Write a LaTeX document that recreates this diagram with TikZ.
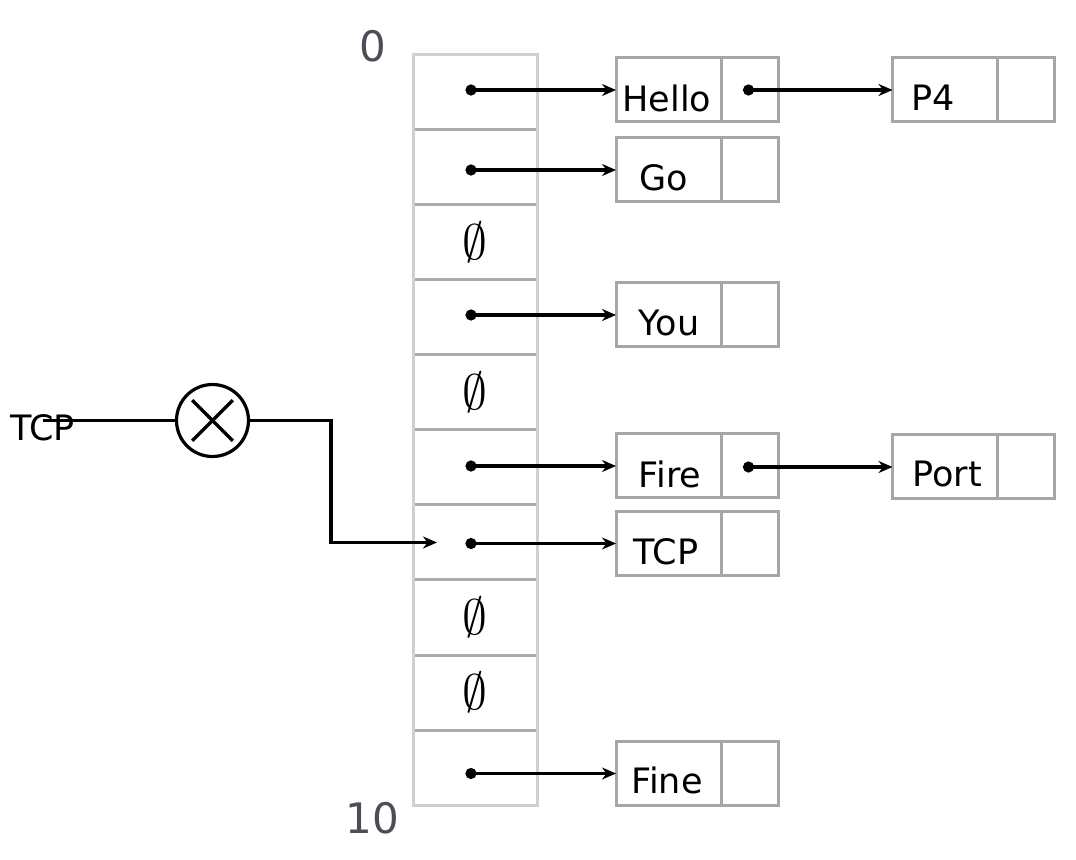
\documentclass[tikz,border=0pt]{standalone}
\usepackage{fontspec}
\setmainfont{DejaVu Sans}
\usetikzlibrary{arrows.meta,calc}
\definecolor{colborder}{HTML}{D0D0D0}
\definecolor{divgray}{HTML}{ABABAB}
\definecolor{recgray}{HTML}{A6A6A6}
\definecolor{idxgray}{HTML}{4B4E56}
\begin{document}
\begin{tikzpicture}[x=0.5pt,y=-0.5pt,
  cell/.style={minimum width=62pt, minimum height=37.5pt, inner sep=0pt, outer sep=0pt, draw=none},
  divider/.style={draw=divgray, line width=1.5pt},
  outer/.style={draw=colborder, line width=1.5pt},
  keybox/.style={draw=recgray, line width=1.5pt, minimum width=52.5pt, minimum height=32pt, inner sep=0pt, outer sep=0pt},
  ptrbox/.style={draw=recgray, line width=1.5pt, minimum width=28.5pt, minimum height=32pt, inner sep=0pt, outer sep=0pt, anchor=west},
  lbl/.style={font=\fontsize{17.5}{20}\selectfont, inner sep=0pt, anchor=base},
  idx/.style={font=\fontsize{21}{24}\selectfont, text=idxgray, inner sep=0pt},
  empt/.style={font=\fontsize{24.88}{28}\selectfont, inner sep=0pt},
  ptr/.style={line width=1.6pt, {Circle[length=5.5pt]}-{Stealth[length=7pt,width=6pt]}},
  wire/.style={line width=1.6pt},
  wirearrow/.style={line width=1.6pt, -{Stealth[length=7pt,width=6pt]}}
]
\useasboundingbox (0,0) rectangle (1076,860);

% hash table column
\foreach \i in {0,...,9} \node[cell] (cell\i) at (475, 92.5+75*\i) {};
\foreach \i in {0,...,8} \draw[divider] (cell\i.south west) -- (cell\i.south east);
\draw[outer] (cell0.north west) rectangle (cell9.south east);
\foreach \i in {2,4,7,8} \node[empt] (e\i) at (cell\i.center) {$\emptyset$};

% indices
\node[idx] (i0) at (372.5,46.7) {0};
\node[idx] (i10) at (372.5,818) {10};

% records
\node[keybox] (hellok) at (668.5,90) {};
\node[ptrbox] (hellop) at (hellok.east) {};
\node[lbl] (hellot) at (667,112) {Hello};

\node[keybox] (gok) at (668.5,170) {};
\node[ptrbox] (gop) at (gok.east) {};
\node[lbl] (got) at (663.5,191) {Go};

\node[keybox] (youk) at (668.5,315) {};
\node[ptrbox] (youp) at (youk.east) {};
\node[lbl] (yout) at (669,336) {You};

\node[keybox] (firek) at (668.5,466) {};
\node[ptrbox] (firep) at (firek.east) {};
\node[lbl] (firet) at (670,487.5) {Fire};

\node[keybox] (tcpk) at (668.5,543.5) {};
\node[ptrbox] (tcpp) at (tcpk.east) {};
\node[lbl] (tcpt) at (666,564.5) {TCP};

\node[keybox] (finek) at (668.5,773.5) {};
\node[ptrbox] (finep) at (finek.east) {};
\node[lbl] (finet) at (667,793) {Fine};

\node[keybox] (p4k) at (945,90) {};
\node[ptrbox] (p4p) at (p4k.east) {};
\node[lbl] (p4t) at (933,110.5) {P4};

\node[keybox] (portk) at (945,467) {};
\node[ptrbox] (portp) at (portk.east) {};
\node[lbl] (portt) at (947,487) {Port};

% pointers
\draw[ptr] ($(cell0.center |- hellok.west)+(-9.5,0)$) -- (hellok.west);
\draw[ptr] ($(cell1.center |- gok.west)+(-9.5,0)$) -- (gok.west);
\draw[ptr] ($(cell3.center |- youk.west)+(-9.5,0)$) -- (youk.west);
\draw[ptr] ($(cell5.center |- firek.west)+(-9.5,0)$) -- (firek.west);
\draw[ptr] ($(cell6.center |- tcpk.west)+(-9.5,0)$) -- (tcpk.west);
\draw[ptr] ($(cell9.center |- finek.west)+(-9.5,0)$) -- (finek.west);
\draw[ptr] ($(hellop.center)+(-6.5,0)$) -- (p4k.west);
\draw[ptr] ($(firep.center |- portk.west)+(-6.5,0)$) -- (portk.west);

% hash function
\node[lbl, anchor=center] (tcp) at (42.5,428) {TCP};
\node[draw, circle, line width=1.6pt, minimum size=36pt, inner sep=0pt, outer sep=0pt] (mult) at (212.5,420.5) {};
\draw[wire] ($(mult.center)!0.8!(mult.north west)$) -- ($(mult.center)!0.8!(mult.south east)$);
\draw[wire] ($(mult.center)!0.8!(mult.north east)$) -- ($(mult.center)!0.8!(mult.south west)$);
\draw[wire] (tcp.center |- mult.west) -- (mult.west);
\coordinate (elbow) at (331,542.5);
\coordinate (tcpin) at ($(cell6.west)+(24,0)$);
\draw[wirearrow] (mult.east) -| (elbow) -- (tcpin);
\end{tikzpicture}
\end{document}
